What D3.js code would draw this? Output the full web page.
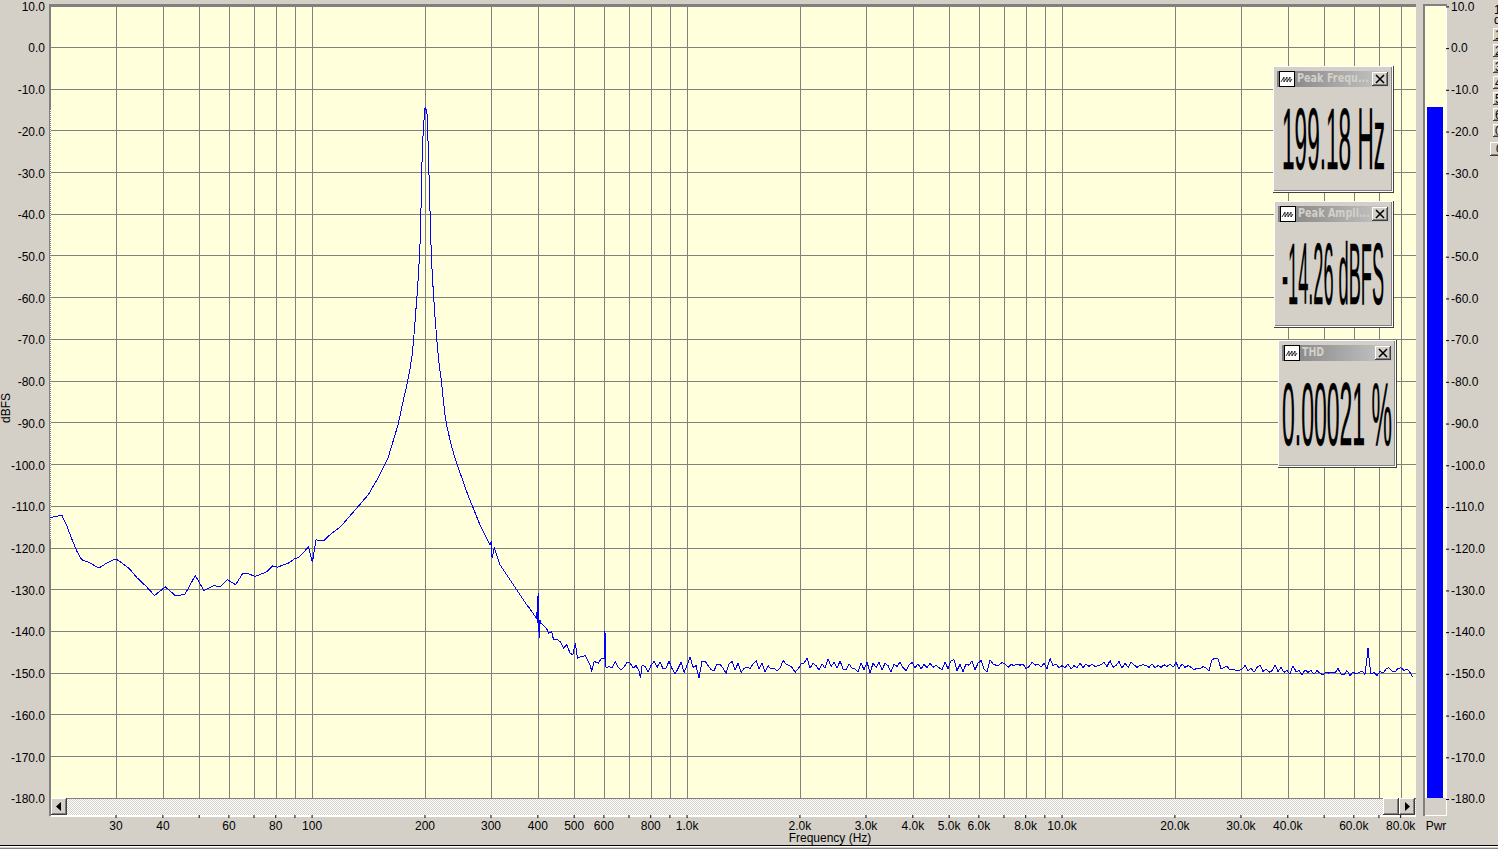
<!DOCTYPE html>
<html>
<head>
<meta charset="utf-8">
<title>Spectrum</title>
<script src="https://d3js.org/d3.v7.min.js"></script>
<style>
  html, body { margin: 0; padding: 0; background: #d4d0c8; overflow: hidden; }
  svg { display: block; }
  text { font-family: "Liberation Sans", Arial, sans-serif; font-size: 12px; fill: #000; }
</style>
</head>
<body>
<div id="chart"></div>
<script>
// tick labels and grid positions
var freqTicks = [30, 40, 60, 80, 100, 200, 300, 400, 500, 600, 800, 1000, 2000, 3000, 4000, 5000, 6000, 8000,
  10000, 20000, 30000, 40000, 60000, 80000];
var freqGrid = [30, 40, 50, 60, 70, 80, 90, 100, 200, 300, 400, 500, 600, 700, 800, 900, 1000, 2000, 3000, 4000,
  5000, 6000, 7000, 8000, 9000, 10000, 20000, 30000, 40000, 50000, 60000, 70000, 80000];
var dbTicks = [10, 0, -10, -20, -30, -40, -50, -60, -70, -80, -90, -100, -110, -120, -130, -140, -150, -160, -170, -180];

// spectrum: low end up to the 200 Hz peak
var riseFreqs = [20, 20.6, 21.5, 22.2, 22.9, 23.6, 24.3, 25.6, 27, 28.6,
  30, 31.1, 32.6, 34.1, 36.2, 38, 40.6, 43.3, 45.8, 48.8,
  51.5, 54.6, 56.8, 59.4, 62.5, 65.2, 67.7, 70.5, 75.7, 78.5,
  80.8, 86.5, 90.1, 91.9, 97.8, 100.2, 102.5, 105, 107.6, 111.7,
  118.8, 130.2, 141, 150, 159.4, 169.5, 174, 178.1, 180.4, 182.6,
  184.9, 186.4, 187.9, 189.4, 191, 192.2, 193.8, 195, 196.1, 196.9,
  198.2, 199.4, 200.2];
var riseDb = [-112.7, -112.5, -112.1, -114.8, -118, -120.8, -122.8, -123.6, -124.8, -123.4,
  -122.6, -123.6, -125, -127.1, -129.3, -131.4, -129.3, -131.5, -131.1, -126.6,
  -130.2, -129, -129.3, -127.6, -128.8, -126.2, -126.2, -126.8, -125.7, -124.3,
  -124.6, -123.6, -122.5, -122.3, -119.8, -123.4, -118, -118.3, -118.2, -116.8,
  -115, -110.9, -107.3, -103.2, -98.4, -90.5, -85.7, -81.7, -79.3, -76.9,
  -73.6, -70.4, -66.4, -62.3, -58.3, -53.9, -48.6, -40.5, -30, -23.2,
  -19.6, -15.6, -14.26];

// falling side of the peak down to the 600 Hz harmonic
var fallFreqs = [201.8, 203.1, 203.5, 204.3, 205.6, 206.9, 208.1, 209.4, 210.7, 212.4,
  214.2, 216, 217.7, 219.5, 221.3, 224.1, 226.5, 229, 236, 243.6, 260.4, 280.5,
  298, 300.5, 302, 306, 317, 337, 351.3, 358.5, 365.9, 373.5,
  381.3, 389.2, 397.3, 398.2, 399.7, 400.5, 401.5, 403.9, 405, 407.2,
  413.9, 422.5, 426.9, 435.7, 440.3, 451, 458.5, 468, 477.8, 487.5,
  495.6, 503.7, 510, 523.7, 534.6, 542.3, 551.3, 557, 565, 580,
  592, 601.7, 604];
var fallDb = [-15.2, -16.4, -20.4, -26, -34.1, -43.8, -50.2, -55.1, -59, -63.9,
  -68, -72, -75.2, -77.7, -80, -85, -88.5, -91, -96, -100, -107.3, -114.5,
  -119.3, -118.4, -122.4, -120, -124, -127.6, -130, -131.2, -132.4, -133.6,
  -134.6, -135.8, -137, -134.6, -138, -130.8, -138, -141.6, -137.2, -138,
  -138.6, -139.4, -140.4, -140, -142, -142, -142.4, -144, -143.2, -145.2,
  -145.6, -142.8, -146.4, -146, -145.8, -146.8, -148, -149.6, -147.2, -147.6,
  -146.4, -146.4, -140];

// noise floor, 600 Hz to 1.7 kHz
var floorFreqsA = [608, 619, 631, 643, 655, 668, 679, 692, 705, 718,
  731, 745, 751, 759, 773, 787, 802, 817, 832, 847,
  863, 879, 895, 912, 929, 946, 964, 982, 1000, 1019,
  1037, 1057, 1076, 1096, 1117, 1138, 1159, 1180, 1202, 1225,
  1247, 1271, 1294, 1318, 1343, 1368, 1393, 1419, 1445, 1472,
  1500, 1528, 1556, 1585, 1614, 1644, 1675];
var floorDbA = [-148.8, -148.4, -148.7, -147.2, -148.6, -149.2, -148.6, -147.3, -147.6, -148.8,
  -148.2, -149.6, -151.2, -148.1, -148.4, -149.8, -148.1, -147.2, -148.6, -147.3,
  -149, -148.8, -147.1, -148.9, -150.2, -148.9, -147.4, -149.8, -148.1, -146.2,
  -148.6, -148.2, -151.2, -147.2, -147.1, -148.2, -149.2, -149.4, -147.8, -147.9,
  -148.8, -150, -147.8, -147.2, -149.2, -147.6, -149.8, -148.9, -148.6, -148.9,
  -147.8, -147, -149, -147.6, -149.8, -148.2, -149];

// noise floor, 1.7 kHz to 12.5 kHz
var floorFreqsB = [1706, 1738, 1770, 1803, 1837, 1871, 1905, 1941, 1977, 2014,
  2051, 2089, 2128, 2168, 2208, 2249, 2291, 2333, 2377, 2421,
  2466, 2512, 2559, 2606, 2655, 2704, 2754, 2805, 2858, 2911,
  2965, 3020, 3076, 3133, 3192, 3251, 3311, 3373, 3436, 3499,
  3565, 3631, 3698, 3767, 3837, 3908, 3981, 4055, 4130, 4207,
  4285, 4365, 4446, 4529, 4613, 4699, 4786, 4875, 4966, 5058,
  5152, 5248, 5346, 5445, 5546, 5649, 5754, 5861, 5970, 6081,
  6194, 6310, 6427, 6546, 6668, 6792, 6918, 7047, 7178, 7311,
  7447, 7586, 7727, 7870, 8017, 8166, 8318, 8472, 8630, 8790,
  8954, 9120, 9290, 9462, 9638, 9817, 10000, 10190, 10370, 10570,
  10760, 10960, 11170, 11380, 11590, 11800, 12020, 12250, 12470];
var floorDbB = [-148.8, -149.4, -148.8, -147, -147.8, -148.2, -148.6, -149.8, -149, -147.8,
  -147.6, -146.4, -148.8, -147.6, -148.2, -149.2, -147.8, -148.8, -146.6, -148.4,
  -147.4, -148.8, -147.1, -149, -149.2, -147.8, -148.8, -149, -149.7, -147.6,
  -149.2, -147.3, -150, -147.6, -148.6, -147.4, -149.2, -147.6, -148.2, -149.7,
  -147.8, -148.4, -147.3, -148.7, -149.4, -148.1, -147.4, -148.7, -147.8, -149,
  -147.9, -148.7, -147.6, -148.6, -148.1, -148.7, -149.2, -147.4, -148.9, -147,
  -146.8, -149.4, -147.9, -149.6, -147.8, -148.1, -147, -149.2, -147.6, -147,
  -149, -149.8, -146.8, -147.8, -148.1, -148.1, -147.4, -147.8, -148.6, -147.9,
  -148.2, -147.8, -148.1, -147.8, -149, -148.4, -147.4, -148.1, -147.8, -148.6,
  -147.6, -148.9, -146.5, -148.2, -147.8, -148.7, -148.2, -148.7, -147.8, -149,
  -148.2, -148.7, -147.6, -148.7, -147.8, -148.4, -147.9, -148.4, -148.2];

// noise floor, 12.5 kHz to the right edge
var floorFreqsC = [12710, 12940, 13180, 13430, 13680, 13930, 14190, 14450, 14720, 15000,
  15280, 15560, 15850, 16140, 16440, 16750, 17060, 17380, 17700, 18030,
  18370, 18710, 19050, 19410, 19770, 20140, 20510, 20890, 21280, 21680,
  22080, 22490, 22910, 23330, 23770, 24210, 24660, 25120, 25590, 26060,
  26550, 27040, 27540, 28050, 28580, 29110, 29650, 30200, 30760, 31330,
  31920, 32510, 33110, 33730, 34360, 34990, 35650, 36310, 36980, 37670,
  38370, 39080, 39810, 40550, 41300, 42070, 42850, 43650, 44460, 45290,
  46130, 46990, 47860, 48750, 49660, 50580, 51520, 52480, 53460, 54450,
  55460, 56490, 57540, 58610, 59700, 60810, 61940, 63100, 64270, 64900,
  65460, 66000, 66680, 67920, 69180, 70470, 71780, 73110, 74470, 75860,
  77270, 78700, 80170, 81660, 83180, 84720, 86300];
var floorDbC = [-148, -147.4, -148.4, -147, -148.6, -148.2, -147.2, -148.8, -147.6, -148.6,
  -147.4, -148, -148.6, -148.2, -148, -148.2, -148.6, -147.8, -148.7, -148.2,
  -148.6, -148, -148.4, -147.8, -148.6, -147.4, -149, -147.8, -148.6, -148.2,
  -148.6, -149.2, -148.8, -149, -148.4, -148.8, -149.4, -146.8, -146.4, -146.6,
  -149, -148.6, -148.4, -149.2, -149, -149.4, -149.4, -149, -148.2, -149.4,
  -148.8, -149.8, -148.6, -148.1, -149.6, -149, -149.8, -149.4, -148, -149.6,
  -148.6, -149.8, -149.4, -150.2, -148.2, -149.6, -149.4, -150.4, -149.2, -149.8,
  -149.4, -150.2, -149.4, -150, -150.4, -149.8, -150, -149.7, -150, -148.9,
  -150.2, -150.4, -149.4, -150.6, -149.7, -150.2, -149.8, -149.5, -150.3, -147.2,
  -144, -147.2, -150.2, -149.8, -150.6, -149.6, -150, -149, -148.7, -149.5,
  -149.7, -148.9, -148.7, -149.4, -149, -149.8, -151];

// power meter and readouts
var meterLevel = -14.26;
var readoutTitles = ["Peak Frequ...", "Peak Ampli...", "THD"];
var readoutValues = ["199.18 Hz", "-14.26 dBFS", "0.00021 %"];
var sideButtons = ["1", "2", "3", "4", "5", "6", "0"];

var width = 1498, height = 849;
var left = 50, right = 1416, top_ = 5.7, bottom = 798.3;
var face = "#d4d0c8", paper = "#ffffdc", gridColor = "#808080", blue = "#0000ff";

var svg = d3.select("#chart").append("svg").attr("width", width).attr("height", height);

var x = d3.scaleLog().domain([20, 87900]).range([left, right]);
var y = d3.scaleLinear().domain([10, -180]).range([top_, bottom]);

var defs = svg.append("defs");
var dither = defs.append("pattern").attr("id", "dither").attr("width", 2).attr("height", 2)
  .attr("patternUnits", "userSpaceOnUse");
dither.append("rect").attr("width", 2).attr("height", 2).attr("fill", "#ffffff");
dither.append("rect").attr("width", 1).attr("height", 1).attr("fill", face);
dither.append("rect").attr("x", 1).attr("y", 1).attr("width", 1).attr("height", 1).attr("fill", face);

var titleFade = defs.append("linearGradient").attr("id", "titleFade");
titleFade.append("stop").attr("offset", "0%").attr("stop-color", "#808080");
titleFade.append("stop").attr("offset", "100%").attr("stop-color", "#c8c8c8");

defs.append("clipPath").attr("id", "plotClip").append("rect")
  .attr("x", left).attr("y", 0).attr("width", right - left).attr("height", bottom);

function box(g, bx, by, w, h, fill) {
  return g.append("rect").attr("x", bx).attr("y", by).attr("width", w).attr("height", h)
    .attr("fill", fill).attr("shape-rendering", "crispEdges");
}

// raised windows-style button
function bevel(g, bx, by, w, h) {
  box(g, bx, by, w, h, "#404040");
  box(g, bx, by, w - 1, h - 1, "#ffffff");
  box(g, bx + 1, by + 1, w - 2, h - 2, "#808080");
  box(g, bx + 1, by + 1, w - 3, h - 3, face);
}

// plot background and grid
box(svg, left, 5, right - left, bottom - 5, paper);

var grid = svg.append("g").attr("shape-rendering", "crispEdges");
grid.selectAll(".vgrid").data(freqGrid).enter().append("line")
  .attr("class", "vgrid")
  .attr("x1", function(d) { return Math.round(x(d)) + 0.5; })
  .attr("x2", function(d) { return Math.round(x(d)) + 0.5; })
  .attr("y1", 5).attr("y2", bottom)
  .attr("stroke", gridColor);
grid.selectAll(".hgrid").data(dbTicks).enter().append("line")
  .attr("class", "hgrid")
  .attr("x1", left).attr("x2", right)
  .attr("y1", function(d) { return Math.floor(y(d)) + 0.5; })
  .attr("y2", function(d) { return Math.floor(y(d)) + 0.5; })
  .attr("stroke", gridColor);

// frame
box(svg, 49, 4, right - 49, 3, gridColor);
box(svg, 49, 4, 2, 812, gridColor);
svg.append("line").attr("x1", 50).attr("x2", 50).attr("y1", 110).attr("y2", 540)
  .attr("stroke", "#ffffff").attr("stroke-dasharray", "1 1").attr("shape-rendering", "crispEdges");

// spectrum trace
var freqs = riseFreqs.concat(fallFreqs, floorFreqsA, floorFreqsB, floorFreqsC);
var levels = riseDb.concat(fallDb, floorDbA, floorDbB, floorDbC);
var trace = d3.line()
  .x(function(d) { return x(d[0]); })
  .y(function(d) { return y(d[1]); });
svg.append("path")
  .datum(d3.zip(freqs, levels))
  .attr("d", trace)
  .attr("clip-path", "url(#plotClip)")
  .attr("fill", "none")
  .attr("stroke", blue)
  .attr("stroke-width", 1)
  .attr("shape-rendering", "crispEdges");

// scrollbar under the plot
box(svg, 51, 799, right - 51, 16, "url(#dither)");
box(svg, 51, 815, right - 51, 2, "#ffffff");
bevel(svg, 51, 798, 16, 17);
bevel(svg, 1383, 798, 16, 17);
bevel(svg, 1399, 798, 16, 17);
svg.append("path").attr("d", "M56 806.5L61 802V811Z").attr("fill", "#000");
svg.append("path").attr("d", "M1410 806.5L1405 802V811Z").attr("fill", "#000");

// axes
var xAxis = d3.axisBottom(x)
  .tickValues(freqGrid)
  .tickSize(3)
  .tickPadding(3.5)
  .tickFormat(function(d) {
    if (freqTicks.indexOf(d) < 0) return "";
    return d >= 1000 ? (d / 1000).toFixed(1) + "k" : String(d);
  });
svg.append("g").attr("transform", "translate(-0.5,815)").call(xAxis)
  .call(function(g) { g.select(".domain").remove(); })
  .call(function(g) { g.selectAll("text").style("font-size", "12px").attr("font-family", null); });

var dbFormat = function(d) { return d.toFixed(1); };
var yAxis = d3.axisLeft(y)
  .tickValues(dbTicks)
  .tickSize(0)
  .tickPadding(5)
  .tickFormat(dbFormat);
svg.append("g").attr("transform", "translate(50,0.7)").call(yAxis)
  .call(function(g) { g.select(".domain").remove(); })
  .call(function(g) { g.selectAll("text").style("font-size", "12px").attr("font-family", null); });

svg.append("text").attr("x", 830).attr("y", 842).attr("text-anchor", "middle").text("Frequency (Hz)");
svg.append("text").attr("transform", "translate(9.5,408) rotate(-90)").attr("text-anchor", "middle").text("dBFS");

// power meter on the right
box(svg, 1423, 4, 24, 3, gridColor);
box(svg, 1423, 4, 2, 812, gridColor);
box(svg, 1425, 6, 21, bottom - 6, paper);
box(svg, 1446, 6, 1, 810, "#ffffff");
box(svg, 1425, 815, 22, 1, "#ffffff");
box(svg, 1427, y(meterLevel), 16, y(-180) - y(meterLevel), blue);

var meterAxis = d3.axisRight(y)
  .tickValues(dbTicks)
  .tickSize(3)
  .tickPadding(2)
  .tickFormat(dbFormat);
svg.append("g").attr("transform", "translate(1446,0.7)").call(meterAxis)
  .call(function(g) { g.select(".domain").remove(); })
  .call(function(g) { g.selectAll("text").style("font-size", "12px").attr("font-family", null); });
svg.append("text").attr("x", 1436).attr("y", 830).attr("text-anchor", "middle").text("Pwr");

// clipped toolbar on the far right
svg.append("text").attr("x", 1494).attr("y", 14).text("1");
svg.append("text").attr("x", 1494).attr("y", 24).text("d");
sideButtons.forEach(function(label, i) {
  bevel(svg, 1493, 28 + i * 16, 12, 13);
  svg.append("text").attr("x", 1495).attr("y", 39 + i * 16).text(label);
});
bevel(svg, 1490, 142, 14, 14);
svg.append("text").attr("x", 1496).attr("y", 153).text("0");

// floating readout windows
function readout(i, px, py, w, h, textX, textY, textW, textH) {
  var g = svg.append("g");
  box(g, px, py, w, h, "#404040");
  box(g, px, py, w - 1, h - 1, "#ffffff");
  box(g, px + 1, py + 1, w - 3, h - 3, "#808080");
  box(g, px + 1, py + 1, w - 4, h - 4, face);
  box(g, px + 4, py + 5, w - 8, 16, "url(#titleFade)");
  // title bar icon
  box(g, px + 6, py + 5, 16, 16, "#000000");
  box(g, px + 7, py + 6, 14, 14, "#ffffff");
  g.append("path")
    .attr("d", "M" + (px + 8) + " " + (py + 16) + "l3 -5v5l3 -5v5l3 -5v5l2 -3")
    .attr("fill", "none").attr("stroke", "#000").attr("stroke-width", 0.8);
  var title = g.append("text")
    .style("font-size", "11.5px").style("font-weight", "bold").style("fill", "#d4d0c8")
    .style("font-family", "'DejaVu Sans', sans-serif")
    .text(readoutTitles[i]);
  var titleW = i == 2 ? 22 : 72;
  title.attr("transform", "translate(" + (px + 24) + "," + (py + 16) + ") scale(" +
    titleW / title.node().getComputedTextLength() + ",1)");
  // close button
  bevel(g, px + w - 22, py + 6, 16, 14);
  g.append("path")
    .attr("d", "M" + (px + w - 18) + " " + (py + 9) + "l8 8m0 -8l-8 8")
    .attr("stroke", "#000").attr("stroke-width", 1.6);
  // value, squeezed narrow and tall
  var value = g.append("text")
    .style("font-size", (textH / 0.716) + "px")
    .style("stroke", "#000").style("stroke-width", 0.4)
    .text(readoutValues[i]);
  value.attr("transform", "translate(" + textX + "," + textY + ") scale(" +
    textW / value.node().getComputedTextLength() + ",1)");
}
readout(0, 1273, 66, 121, 127, 1282, 169, 103, 62);
readout(1, 1274, 201, 120, 127, 1282, 304, 102, 63);
readout(2, 1278, 340, 119, 128, 1282, 445, 110, 64);

// window edge at the bottom
box(svg, 0, 845, width, 1, "#000000");
box(svg, 0, 846, width, 1, "#ffffff");
box(svg, 0, 848, width, 1, "#808080");
</script>
</body>
</html>
